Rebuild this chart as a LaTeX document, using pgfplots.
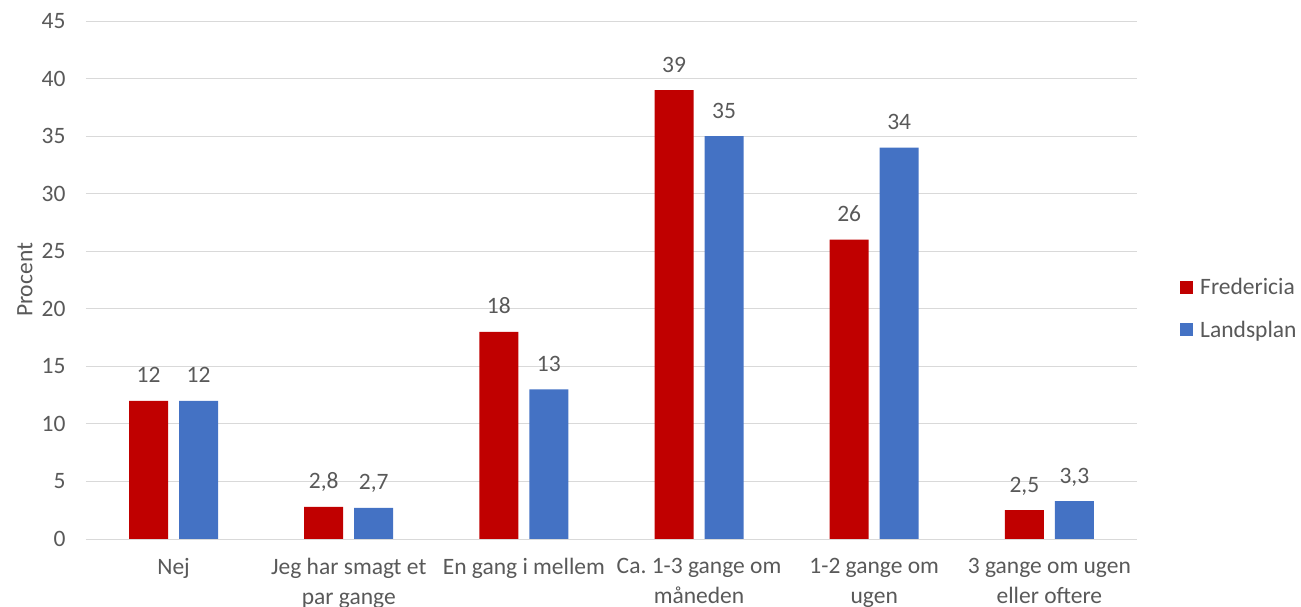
\documentclass[border=0pt]{standalone}
\usepackage{fontspec}
\setmainfont{Carlito}
\usepackage{pgfplots}
\pgfplotsset{compat=1.18}
\definecolor{fred}{HTML}{C00000}
\definecolor{lands}{HTML}{4472C4}
\definecolor{txt}{HTML}{595959}
\definecolor{grd}{HTML}{D9D9D9}
\newcommand{\lblfont}{\fontsize{23.5}{30}\selectfont}
\frenchspacing
\begin{document}
\begin{tikzpicture}
\begin{axis}[
  scale only axis, width=1051pt, height=518pt,
  xmin=-0.5, xmax=5.5, ymin=0, ymax=45,
  ytick={0,5,...,45},
  xtick={0,...,5},
  xticklabels={Nej, {Jeg har smagt et\\par gange}, En gang i mellem,
    {Ca.\ 1-3 gange om\\måneden}, {1-2 gange om\\ugen}, {3 gange om ugen\\eller oftere}},
  ybar=11pt, bar width=39pt,
  ymajorgrids, grid style={grd, line width=0.9pt},
  axis line style={draw=none}, major tick length=0pt,
  tick label style={font=\lblfont, text=txt},
  yticklabel style={xshift=-17pt},
  xticklabel style={align=center, anchor=north, yshift=-16pt},
  nodes near coords,
  nodes near coords style={font=\lblfont, text=txt, anchor=base, yshift=18pt},
  /pgf/number format/use comma,
  /pgf/number format/assume math mode=true,
  ylabel=Procent,
  ylabel style={font=\lblfont, text=txt, at={(axis description cs:-0.058,0.5)}, anchor=center},
  legend style={draw=none, inner sep=0pt, at={(1.041,0.445)}, anchor=west,
    font=\lblfont, text=txt, row sep=21pt,
    /tikz/every odd column/.append style={column sep=5pt}},
  legend cell align=left,
  legend image code/.code={\fill[#1] (0pt,-6.5pt) rectangle (13pt,6.5pt);},
]
\addplot[fill=fred, draw=none] coordinates {(0,12) (1,2.8) (2,18) (3,39) (4,26) (5,2.5)};
\addplot[fill=lands, draw=none] coordinates {(0,12) (1,2.7) (2,13) (3,35) (4,34) (5,3.3)};
\legend{Fredericia, Landsplan}
\end{axis}
\pgfresetboundingbox
\path (-86pt,-68pt) rectangle (1215pt,539pt);
\end{tikzpicture}
\end{document}
